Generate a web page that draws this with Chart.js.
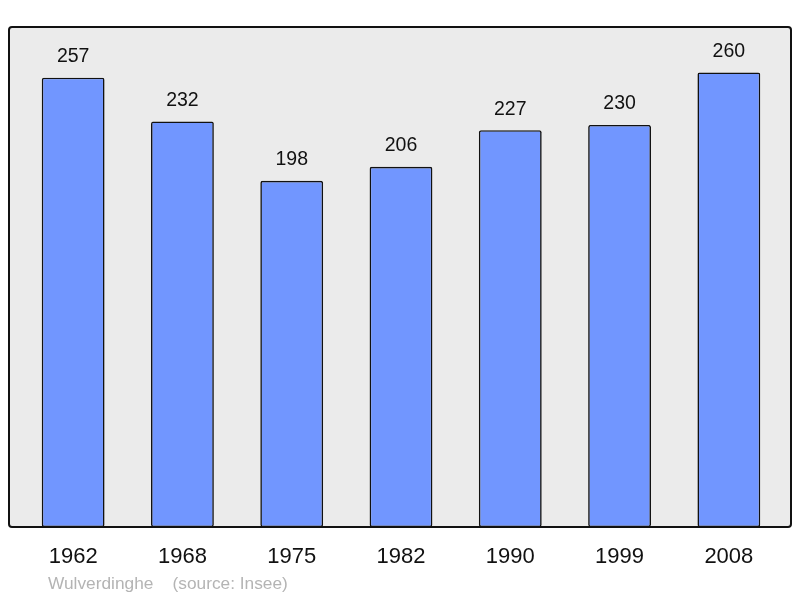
<!DOCTYPE html>
<html>
<head>
    <title>Population</title>
    <script src="https://cdn.jsdelivr.net/npm/chart.js"></script>
    <style>
        body { margin: 0; background: #fff; }
        .chart-container { width: 800px; height: 598px; }
    </style>
</head>
<body>
    <div class="chart-container">
        <canvas id="chartContainer"></canvas>
    </div>
    <script>
        // chart data
        const years = ['1962', '1968', '1975', '1982', '1990', '1999', '2008'];
        const population = [257, 232, 198, 206, 227, 230, 260];
        const sourceText = 'Wulverdinghe    (source: Insee)';

        // grey frame behind the plot, slightly wider than the category range
        const framePlugin = {
            id: 'frame',
            beforeDraw(chart) {
                const ctx = chart.ctx;
                const a = chart.chartArea;
                const x0 = a.left - 9.5, x1 = a.right + 7.5;
                const y0 = a.top, y1 = a.bottom;
                ctx.save();
                ctx.beginPath();
                ctx.roundRect(x0, y0, x1 - x0, y1 - y0, 3);
                ctx.fillStyle = '#ebebeb';
                ctx.fill();
                ctx.lineWidth = 2;
                ctx.strokeStyle = '#111';
                ctx.stroke();
                ctx.restore();
            },
            afterDraw(chart) {
                const ctx = chart.ctx;
                const meta = chart.getDatasetMeta(0);
                ctx.save();
                ctx.font = '19.5px "Liberation Sans", Arial, sans-serif';
                ctx.fillStyle = '#111';
                ctx.textAlign = 'center';
                ctx.textBaseline = 'middle';
                meta.data.forEach((bar, i) => {
                    ctx.fillText(population[i], bar.x, bar.y - 21);
                });
                ctx.font = '17.3px "Liberation Sans", Arial, sans-serif';
                ctx.fillStyle = '#b4b4b4';
                ctx.textAlign = 'left';
                ctx.fillText(sourceText, 48, 584);
                ctx.restore();
            }
        };

        const ctx = document.getElementById('chartContainer').getContext('2d');
        new Chart(ctx, {
            type: 'bar',
            data: {
                labels: years,
                datasets: [{
                    data: population,
                    backgroundColor: '#7196ff',
                    borderColor: '#111',
                    borderWidth: 1.6,
                    borderRadius: 2,
                    borderSkipped: false,
                    barPercentage: 0.575,
                    categoryPercentage: 1
                }]
            },
            options: {
                responsive: true,
                maintainAspectRatio: false,
                animation: false,
                layout: { padding: { left: 18.5, right: 16.5, top: 27, bottom: 18.6 } },
                plugins: {
                    legend: { display: false },
                    tooltip: { enabled: false }
                },
                scales: {
                    x: {
                        grid: { display: false },
                        border: { display: false },
                        ticks: {
                            color: '#111',
                            padding: 9,
                            font: { family: '"Liberation Sans", Arial, sans-serif', size: 22 }
                        }
                    },
                    y: {
                        display: false,
                        min: 0,
                        max: 286
                    }
                }
            },
            plugins: [framePlugin]
        });
    </script>
</body>
</html>
